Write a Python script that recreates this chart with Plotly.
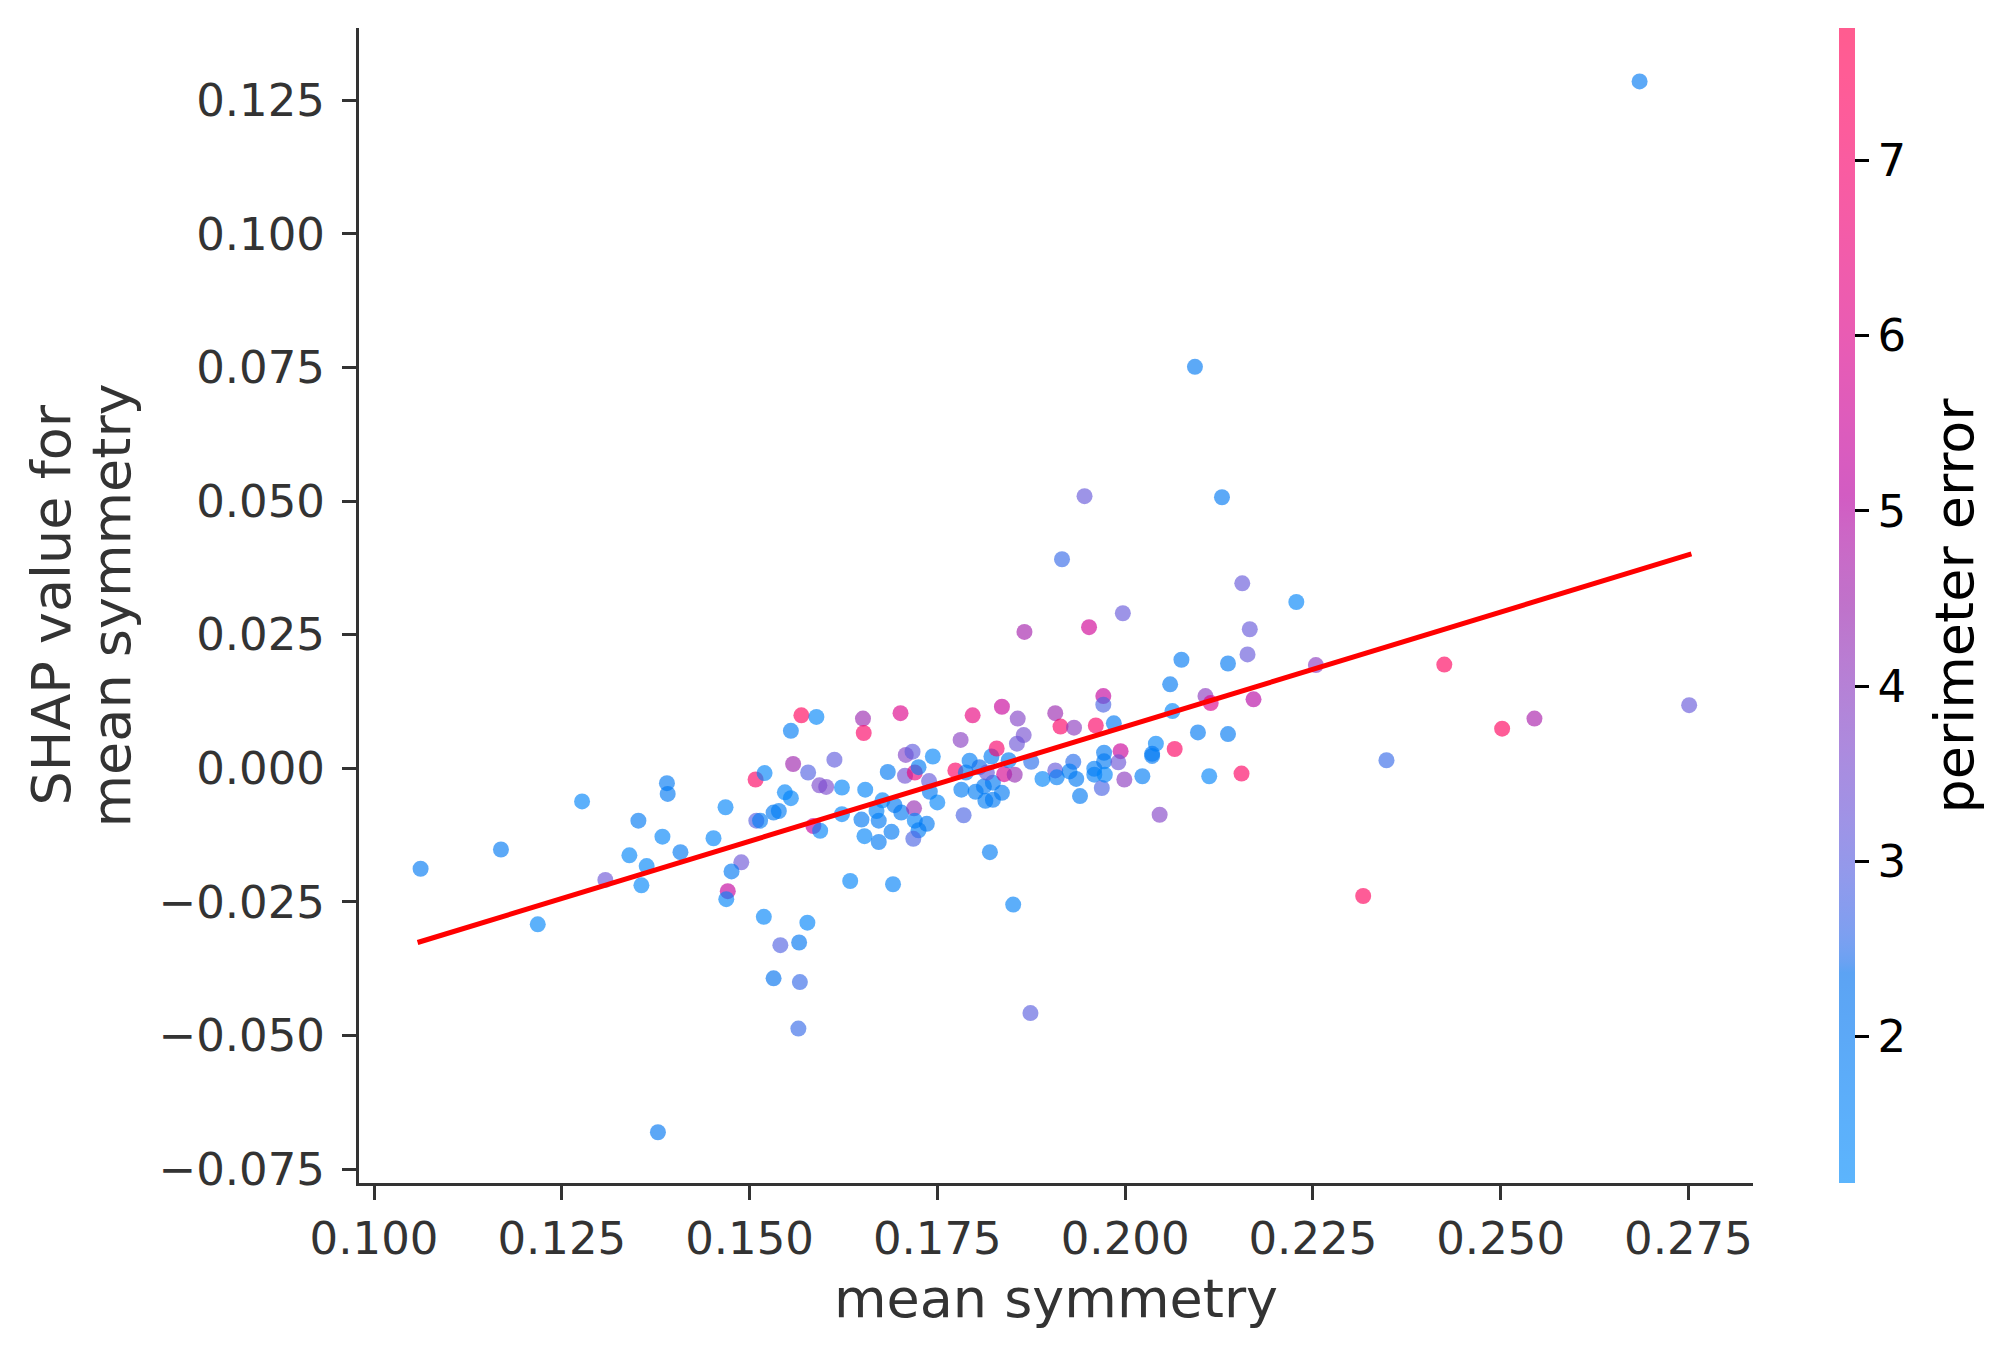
import numpy as np
import plotly.graph_objects as go

# values
mean_symmetry = [
    0.1062, 0.1169, 0.1218, 0.1277, 0.1308, 0.1340, 0.1352, 0.1363, 0.1356, 0.1378,
    0.1384, 0.1390, 0.1391, 0.1408, 0.1452, 0.1468, 0.1489, 0.1476, 0.1471, 0.1469,
    0.1519, 0.1508, 0.1520, 0.1509, 0.1514, 0.1532, 0.1539, 0.1541, 0.1532, 0.1547,
    0.1555, 0.1555, 0.1558, 0.1569, 0.1589, 0.1578, 0.1566, 0.1577, 0.1567, 0.1565,
    0.1613, 0.1593, 0.1602, 0.1623, 0.1585, 0.1594, 0.1623, 0.1634,
    0.1651, 0.1652, 0.1654, 0.1649, 0.1653, 0.1672, 0.1672, 0.1677, 0.1669, 0.1691,
    0.1684, 0.1689, 0.1693, 0.1701, 0.1702, 0.1708, 0.1717, 0.1707, 0.1720, 0.1725,
    0.1719, 0.1720, 0.1725, 0.1718, 0.1736, 0.1739, 0.1740, 0.1744, 0.1750, 0.1781,
    0.1774, 0.1785, 0.1782, 0.1793, 0.1797, 0.1788, 0.1806, 0.1801, 0.1814, 0.1820,
    0.1812, 0.1824, 0.1824, 0.1822, 0.1829, 0.1816, 0.1836, 0.1836, 0.1839, 0.1845,
    0.1853, 0.1851, 0.1857, 0.1865, 0.1856, 0.1866, 0.1874, 0.1875, 0.1890, 0.1907,
    0.1914, 0.1907, 0.1909, 0.1931, 0.1932, 0.1926, 0.1935, 0.1940, 0.1952, 0.1961,
    0.1959, 0.1959, 0.1969, 0.1972, 0.1972, 0.1973, 0.1971, 0.1971, 0.1985, 0.1994,
    0.1991, 0.1999, 0.1997, 0.2023, 0.2036, 0.2041, 0.2046, 0.2036, 0.2060, 0.2063,
    0.2066, 0.2075, 0.2097, 0.2107, 0.2114, 0.2112, 0.2137, 0.2137, 0.2155, 0.2166,
    0.2163, 0.2171,
    0.2156, 0.2228, 0.2254, 0.2425, 0.2348, 0.2502, 0.2545, 0.2751, 0.2317,
    0.2685, 0.2093, 0.2129, 0.1946, 0.1916,
]
shap_values = [
    -0.0188, -0.0152, -0.0292, -0.0062, -0.0209, -0.0163, -0.0098, -0.0183, -0.0219, -0.0681,
    -0.0128, -0.0028, -0.0048, -0.0157, -0.0131, -0.0073, -0.0176, -0.0193, -0.0230, -0.0245,
    -0.0278, -0.0021, -0.0009, -0.0098, -0.0098, -0.0083, -0.0080, -0.0331, -0.0393, -0.0045,
    -0.0056, 0.0070, 0.0008, 0.0099, 0.0096, -0.0008, -0.0326, -0.0289, -0.0400, -0.0487,
    0.0016, -0.0032, -0.0035, -0.0036, -0.0108, -0.0117, -0.0086, -0.0211,
    0.0093, 0.0066, -0.0040, -0.0096, -0.0127, -0.0098, -0.0138, -0.0060, -0.0080, -0.0217,
    -0.0007, -0.0119, -0.0069, 0.0103, -0.0083, 0.0025, 0.0031, -0.0014, -0.0008, 0.0002,
    -0.0075, -0.0098, -0.0116, -0.0132, -0.0104, -0.0024, -0.0044, 0.0022, -0.0064, 0.0053,
    -0.0004, -0.0088, -0.0040, 0.0014, 0.0099, -0.0008, 0.0002, -0.0044, -0.0061, -0.0157,
    -0.0034, -0.0027, -0.0059, 0.0022, 0.0037, -0.0008, 0.0115, -0.0046, -0.0011, 0.0015,
    -0.0012, -0.0255, 0.0093, 0.0062, 0.0046, 0.0255, -0.0458, 0.0012, -0.0020, 0.0103,
    0.0078, -0.0004, -0.0017, 0.0012, 0.0076, -0.0006, -0.0020, -0.0052, 0.0264, 0.0080,
    -0.0001, -0.0012, -0.0037, 0.0029, 0.0013, -0.0012, 0.0135, 0.0119, 0.0084, 0.0032,
    0.0011, -0.0021, 0.0290, -0.0015, 0.0023, 0.0046, -0.0087, 0.0027, 0.0157, 0.0107,
    0.0036, 0.0203, 0.0067, 0.0135, 0.0122, -0.0015, 0.0196, 0.0064, -0.0010, 0.0260,
    0.0213, 0.0129,
    0.0346, 0.0311, 0.0193, 0.0194, 0.0015, 0.0074, 0.0093, 0.0118, -0.0239,
    0.1285, 0.0751, 0.0507, 0.0509, 0.0391,
]
perimeter_error = [
    2.0, 2.0, 1.4, 1.5, 3.3, 1.4, 2.0, 1.4, 1.4, 2.1,
    1.5, 2.0, 2.0, 2.0, 1.5, 1.5, 3.3, 2.0, 5.3, 1.5,
    1.5, 7.3, 1.5, 3.0, 1.9, 2.0, 1.9, 2.9, 2.3, 1.5,
    1.5, 1.9, 4.5, 7.5, 1.4, 2.9, 2.1, 1.5, 2.6, 2.6,
    3.1, 3.6, 3.6, 1.5, 5.3, 1.5, 1.5, 1.5,
    4.4, 7.2, 1.5, 2.0, 1.5, 2.0, 2.0, 1.5, 1.6, 1.6,
    2.0, 2.0, 2.0, 6.0, 2.0, 3.8, 3.1, 3.4, 6.5, 1.9,
    4.3, 1.5, 1.9, 2.8, 2.0, 3.2, 2.0, 1.5, 1.5, 3.9,
    7.2, 2.8, 1.9, 1.8, 6.4, 1.9, 2.4, 1.9, 1.9, 1.9,
    2.0, 2.0, 2.0, 1.9, 7.0, 3.2, 5.4, 2.0, 5.8, 2.0,
    4.3, 1.6, 3.8, 3.5, 3.3, 4.6, 3.0, 2.5, 1.5, 4.4,
    7.2, 3.2, 1.9, 2.5, 4.0, 1.9, 2.0, 2.0, 5.6, 7.2,
    1.8, 1.8, 2.8, 2.0, 2.0, 1.5, 5.3, 2.8, 2.0, 5.5,
    3.3, 4.0, 3.2, 1.9, 2.0, 1.5, 3.8, 2.0, 2.0, 1.5,
    7.3, 2.0, 2.0, 4.0, 6.0, 1.5, 2.0, 2.0, 7.3, 3.2,
    3.2, 5.0,
    3.2, 1.5, 4.0, 7.4, 2.6, 7.4, 4.7, 3.2, 7.4,
    2.0, 2.0, 2.0, 3.2, 2.6,
]

# fitted trend line end points
fit_x = [0.1058, 0.2754]
fit_y = [-0.0326, 0.0401]

x_ticks = [0.100, 0.125, 0.150, 0.175, 0.200, 0.225, 0.250, 0.275]
y_ticks = [-0.075, -0.050, -0.025, 0.000, 0.025, 0.050, 0.075, 0.100, 0.125]
cbar_ticks = [2, 3, 4, 5, 6, 7]


def lch2rgb(l, c, h):
    a, b = c * np.cos(h), c * np.sin(h)
    fy = (l + 16) / 116
    xyz = []
    for t, w in ((fy + a / 500, 0.95047), (fy, 1.0), (fy - b / 200, 1.08883)):
        t3 = t ** 3
        xyz.append(w * (t3 if t3 > 0.008856 else (t - 16 / 116) / 7.787))
    m = np.array([[3.24048134, -1.53715152, -0.49853633],
                  [-0.96925495, 1.87599, 0.04155593],
                  [0.05564664, -0.20404134, 1.05731107]])
    lin = m @ np.array(xyz)
    rgb = np.where(lin > 0.0031308, 1.055 * np.abs(lin) ** (1 / 2.4) - 0.055, 12.92 * lin)
    return np.clip(rgb, 0, 1) * 255


# shap red_blue colormap, drawn with alpha
n = 100
l_vals = list(np.linspace(54, 40, n // 2)) + list(np.linspace(40, 54, n // 2))
c_vals = np.linspace(70, 90, n)
h_vals = np.linspace(4.6588, 0.35470565 + 2 * np.pi, n)
red_blue = []
for i in range(n):
    r, g, b = lch2rgb(l_vals[i], c_vals[i], h_vals[i])
    red_blue.append([i / (n - 1), f"rgba({r:.0f},{g:.0f},{b:.0f},0.64)"])

fig = go.Figure()
fig.add_trace(go.Scatter(
    x=mean_symmetry, y=shap_values, mode="markers",
    marker=dict(
        size=16, color=perimeter_error, colorscale=red_blue,
        cmin=1.165, cmax=7.754, line=dict(width=0),
        colorbar=dict(
            tickvals=cbar_ticks, ticks="outside", ticklen=14, tickwidth=3,
            tickcolor="black", tickfont=dict(size=45, color="black"),
            thickness=16, len=1, lenmode="fraction", y=0.5, yanchor="middle",
            x=1.062, xanchor="left", xpad=0, ypad=0, outlinewidth=0,
        ),
    ),
    showlegend=False,
))
fig.add_trace(go.Scatter(
    x=fit_x, y=fit_y, mode="lines",
    line=dict(color="#ff0000", width=5), showlegend=False,
))

axis_style = dict(
    showgrid=False, zeroline=False, showline=True, linecolor="#333333", linewidth=3,
    ticks="outside", ticklen=14, tickwidth=3, tickcolor="#333333",
    tickfont=dict(size=45, color="#333333"), tickformat=".3f",
)
fig.update_xaxes(
    range=[0.098, 0.2836], tickvals=x_ticks, automargin=True,
    title=dict(text="mean symmetry", font=dict(size=54, color="#333333"), standoff=16),
    **axis_style,
)
fig.update_yaxes(
    range=[-0.0776, 0.1385], tickvals=y_ticks, ticklabelstandoff=8,
    **axis_style,
)

# y title (two lines) and colour bar label
for txt, shift in (("SHAP value for", -308), ("mean symmetry", -248)):
    fig.add_annotation(text=txt, x=0, y=0.5, xref="paper", yref="paper",
                       xshift=shift, textangle=-90, showarrow=False,
                       xanchor="center", yanchor="middle",
                       font=dict(size=54, color="#333333"))
fig.add_annotation(text="perimeter error", x=1, y=0.5, xref="paper", yref="paper",
                   xshift=201, textangle=-90, showarrow=False,
                   xanchor="center", yanchor="middle",
                   font=dict(size=54, color="black"))

# the page body adds 8px, so margins are shifted back by that
fig.update_layout(
    width=2011, height=1357,
    margin=dict(l=351, r=266, t=20, b=182),
    plot_bgcolor="white", paper_bgcolor="white",
    font=dict(family="DejaVu Sans", color="#333333"),
)

fig.write_html("out.html")
